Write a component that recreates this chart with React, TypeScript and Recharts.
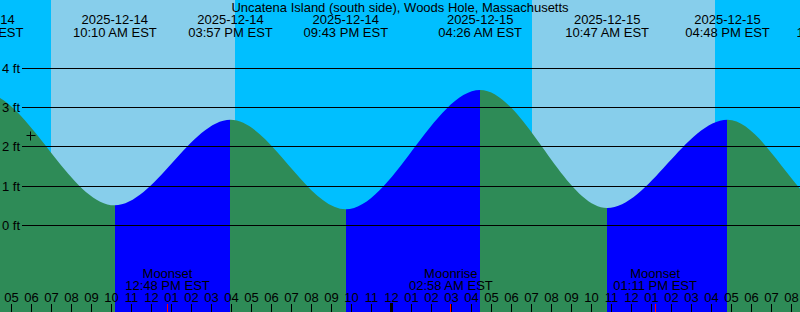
import {
  ComposedChart,
  Area,
  XAxis,
  YAxis,
  ReferenceArea,
  ReferenceLine,
  ReferenceDot,
} from "recharts";

const W = 800;
const H = 312;
const FONT = '"Liberation Sans", Arial, sans-serif';

const NIGHT = "#00BFFF";
const DAY = "#87CEEB";
const RISING = "#0000FF";
const FALLING = "#2E8B57";

// all times are hours counted from 2025-12-14 00:00 EST
const tideTimes = [-2.9, 3.5, 10.167, 15.95, 21.717, 28.433, 34.783, 40.8, 46.367, 53.5];
const tideHeights = [0.45, 3.4, 0.51, 2.69, 0.41, 3.45, 0.44, 2.69, 0.25, 3.45];
const tideDates = [
  "2025-12-13",
  "2025-12-14",
  "2025-12-14",
  "2025-12-14",
  "2025-12-14",
  "2025-12-15",
  "2025-12-15",
  "2025-12-15",
  "2025-12-15",
  "2025-12-16",
];
const tideClock = [
  "09:06 PM EST",
  "03:30 AM EST",
  "10:10 AM EST",
  "03:57 PM EST",
  "09:43 PM EST",
  "04:26 AM EST",
  "10:47 AM EST",
  "04:48 PM EST",
  "10:22 PM EST",
  "05:30 AM EST",
];

const sunrise = [6.975, 31.025];
const sunset = [16.175, 40.175];

const moonTimes = [12.8, 26.967, 37.183];
const moonEvents = ["Moonset", "Moonrise", "Moonset"];
const moonClock = ["12:48 PM EST", "02:58 AM EST", "01:11 PM EST"];

const hourTicks = [
  5, 6, 7, 8, 9, 10, 11, 12, 13, 14, 15, 16, 17, 18, 19, 20, 21, 22, 23, 24,
  25, 26, 27, 28, 29, 30, 31, 32, 33, 34, 35, 36, 37, 38, 39, 40, 41, 42, 43, 44,
];
const depthTicks = [0, 1, 2, 3, 4];
const nowMark = { t: 5.925, h: 2.3 };

const xDomain = [4.425, 44.425];
const yDomain = [-2.21, 5.745];

const tideData = tideTimes.map((t, i) => ({ t, h: tideHeights[i] }));

const clamp = (v: number) => Math.max(0, Math.min(1, v));

// rising water blue, falling water green
const fillStops: any[] = [];
for (let i = 0; i < tideTimes.length - 1; i++) {
  const span = xDomain[1] - xDomain[0];
  const color = tideHeights[i + 1] > tideHeights[i] ? RISING : FALLING;
  const a = clamp((tideTimes[i] - xDomain[0]) / span);
  const b = clamp((tideTimes[i + 1] - xDomain[0]) / span);
  fillStops.push(<stop key={`a${i}`} offset={a} stopColor={color} />);
  fillStops.push(<stop key={`b${i}`} offset={b} stopColor={color} />);
}

const txt = { fontFamily: FONT, fontSize: 13, fill: "#000" };

const DepthTick = ({ y, payload }: any) => {
  const yy = Math.floor(y) + 0.5;
  return (
    <g>
      <text x={2} y={yy + 4.5} {...txt}>
        {payload.value} ft
      </text>
      <line x1={22} x2={W} y1={yy} y2={yy} stroke="#000" strokeWidth={1} />
    </g>
  );
};

const HourTick = ({ x, payload }: any) => {
  const t = payload.value;
  const label = String(t % 12 || 12).padStart(2, "0");
  const xx = Math.floor(x) + 0.5;
  return (
    <g>
      <text x={x} y={302} textAnchor="middle" {...txt}>
        {label}
      </text>
      {t % 24 === 0 ? (
        <rect x={Math.floor(x) - 1} y={303} width={3} height={H - 303} fill="#000" />
      ) : (
        <line x1={xx} x2={xx} y1={304} y2={H} stroke="#000" />
      )}
    </g>
  );
};

const TideLabel = ({ viewBox, date, clock }: any) => {
  const x = viewBox?.x ?? 0;
  return (
    <g>
      <text x={x} y={23.5} textAnchor="middle" {...txt}>
        {date}
      </text>
      <text x={x} y={36.5} textAnchor="middle" {...txt}>
        {clock}
      </text>
    </g>
  );
};

const MoonLabel = ({ viewBox, event, clock }: any) => {
  const x = viewBox?.x ?? 0;
  const xx = Math.floor(x) + 0.5;
  return (
    <g>
      <text x={x} y={277.5} textAnchor="middle" {...txt}>
        {event}
      </text>
      <text x={x} y={290} textAnchor="middle" {...txt}>
        {clock}
      </text>
      <line x1={xx} x2={xx} y1={304} y2={H} stroke="#FF0000" />
    </g>
  );
};

const NowMark = ({ cx, cy }: any) => {
  const x = Math.floor(cx) + 0.5;
  const y = Math.floor(cy) + 0.5;
  return (
    <g>
      <line x1={x - 4} x2={x + 5} y1={y} y2={y} stroke="#000" />
      <line x1={x} x2={x} y1={y - 4} y2={y + 5} stroke="#000" />
    </g>
  );
};

export default function App() {
  return (
    <div
      style={{
        position: "absolute",
        left: 0,
        top: 0,
        width: W,
        height: H,
        background: NIGHT,
        overflow: "hidden",
      }}
    >
      <ComposedChart
        width={W}
        height={H}
        data={tideData}
        margin={{ top: 0, right: 0, bottom: 0, left: 0 }}
      >
        <defs>
          <linearGradient id="tideFill" gradientUnits="userSpaceOnUse" x1={0} y1={0} x2={W} y2={0}>
            {fillStops}
          </linearGradient>
        </defs>
        {sunrise.map((s, i) => (
          <ReferenceArea
            key={`day${i}`}
            x1={s}
            x2={sunset[i]}
            fill={DAY}
            fillOpacity={1}
            stroke="none"
            zIndex={-10}
          />
        ))}
        <Area
          type="monotone"
          dataKey="h"
          stroke="none"
          fill="url(#tideFill)"
          fillOpacity={1}
          baseValue={yDomain[0]}
          dot={false}
          activeDot={false}
          isAnimationActive={false}
        />
        <XAxis
          type="number"
          dataKey="t"
          domain={xDomain}
          allowDataOverflow
          ticks={hourTicks}
          interval={0}
          mirror
          axisLine={false}
          tickLine={false}
          tick={<HourTick />}
        />
        <YAxis
          type="number"
          domain={yDomain}
          allowDataOverflow
          ticks={depthTicks}
          interval={0}
          mirror
          axisLine={false}
          tickLine={false}
          tick={<DepthTick />}
        />
        {tideTimes.map((t, i) => (
          <ReferenceLine
            key={`tide${i}`}
            x={t}
            stroke="none"
            ifOverflow="visible"
            label={<TideLabel date={tideDates[i]} clock={tideClock[i]} />}
          />
        ))}
        {moonTimes.map((t, i) => (
          <ReferenceLine
            key={`moon${i}`}
            x={t}
            stroke="none"
            label={<MoonLabel event={moonEvents[i]} clock={moonClock[i]} />}
          />
        ))}
        <ReferenceDot
          x={nowMark.t}
          y={nowMark.h}
          r={4}
          shape={(p: any) => <NowMark {...p} />}
        />
      </ComposedChart>
      <div
        style={{
          position: "absolute",
          left: 0,
          top: 0,
          width: W,
          textAlign: "center",
          fontFamily: FONT,
          fontSize: 13,
          lineHeight: "15px",
          color: "#000",
        }}
      >
        Uncatena Island (south side), Woods Hole, Massachusetts
      </div>
    </div>
  );
}
